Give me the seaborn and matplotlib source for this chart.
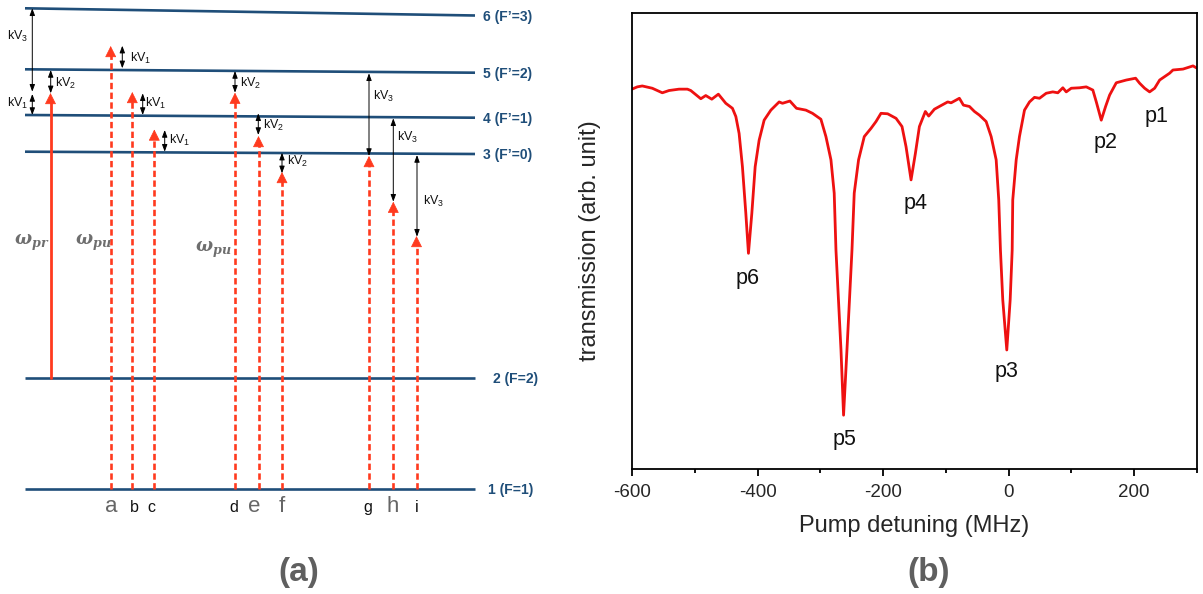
import numpy as np
import pandas as pd
import matplotlib
matplotlib.use("Agg")
import matplotlib.pyplot as plt
from matplotlib.ticker import MultipleLocator
import seaborn as sns

# ---------------- data: pump-probe transmission spectrum (panel b) ----------------
detuning = [-600.0, -591.6, -583.6, -567.7, -551.7, -541.0, -525.1, -511.8, -506.4, -490.4,
            -482.5, -472.9, -462.4, -450.6, -440.0, -434.6, -429.4, -424.1, -418.7, -414.5,
            -409.1, -403.8, -397.5, -389.5, -378.8, -365.6, -360.3, -348.5, -338.0, -323.0,
            -312.5, -299.1, -291.1, -283.1, -277.9, -275.1, -267.1, -263.0, -257.6, -249.6,
            -246.0, -239.1, -230.0, -219.3, -211.3, -203.4, -192.8, -179.4, -169.9, -163.5,
            -155.5, -148.6, -142.2, -132.7, -127.4, -118.3, -110.4, -97.1, -91.7, -78.5,
            -72.1, -62.5, -54.5, -46.6, -35.9, -27.9, -19.9, -15.8, -13.1, -9.4,
            -3.0, 2.4, 5.6, 6.5, 12.0, 17.2, 25.2, 33.2, 41.1, 49.1,
            59.8, 70.3, 78.3, 86.3, 91.7, 99.7, 112.9, 123.6, 134.1, 139.6,
            147.5, 154.4, 160.8, 171.4, 187.4, 202.2, 208.6, 216.6, 224.5, 232.5,
            240.5, 256.4, 261.7, 277.7, 293.6, 300.0]
transmission = [0.833, 0.838, 0.840, 0.835, 0.825, 0.830, 0.833, 0.833, 0.830, 0.812,
                0.819, 0.811, 0.822, 0.802, 0.791, 0.773, 0.736, 0.663, 0.561, 0.473,
                0.561, 0.663, 0.721, 0.765, 0.787, 0.805, 0.802, 0.807, 0.791, 0.787,
                0.780, 0.767, 0.729, 0.678, 0.605, 0.480, 0.261, 0.118, 0.261, 0.480,
                0.605, 0.678, 0.729, 0.747, 0.762, 0.780, 0.779, 0.769, 0.751, 0.707,
                0.634, 0.692, 0.751, 0.784, 0.774, 0.789, 0.795, 0.805, 0.803, 0.813,
                0.798, 0.795, 0.784, 0.776, 0.762, 0.729, 0.678, 0.590, 0.480, 0.371,
                0.261, 0.371, 0.480, 0.590, 0.678, 0.729, 0.787, 0.805, 0.815, 0.813,
                0.824, 0.827, 0.825, 0.836, 0.827, 0.835, 0.836, 0.838, 0.831, 0.805,
                0.765, 0.795, 0.820, 0.847, 0.853, 0.857, 0.846, 0.835, 0.827, 0.835,
                0.853, 0.868, 0.875, 0.877, 0.884, 0.879]
peak_names = ["p1", "p2", "p3", "p4", "p5", "p6"]
peak_centres = [224.5, 147.5, -3.0, -155.5, -263.0, -414.5]
x_ticks = [-600, -400, -200, 0, 200]

# ---------------- data: level scheme (panel a) ----------------
level_labels = ["1 (F=1)", "2 (F=2)", "3 (F\u2019=0)", "4 (F\u2019=1)", "5 (F\u2019=2)", "6 (F\u2019=3)"]
pump_names = ["a", "b", "c", "d", "e", "f", "g", "h", "i"]
kv_index = [3, 1, 2, 1, 1, 1, 2, 2, 2, 3, 3, 3]

# ---------------- layout (pixel coordinates of the schematic) ----------------
lvl_y_left = [489, 378, 151.7, 115, 69.3, 8.3]
lvl_y_right = [489, 378, 154, 117.7, 72.7, 15.5]
lvl_label_x = [488, 493, 483, 483, 483, 483]
pump_x = [110.7, 132.3, 154.3, 235, 258.5, 282, 369, 393.3, 416.5]
pump_tip = [46, 92, 129.5, 92.7, 136, 172, 156, 201.7, 236]
letter_x = [111, 134.4, 151.6, 233.7, 254.5, 281.4, 368, 392.5, 416.8]
letter_big = [True, False, False, False, True, True, False, True, False]
kv_x = [32.3, 32.3, 50.7, 122.3, 142.7, 164.7, 235, 258.3, 282, 369, 393.3, 417]
kv_y0 = [8.3, 94, 70, 45.7, 93.3, 130, 71, 113.3, 152.7, 73.3, 118.3, 155]
kv_y1 = [91.7, 115, 93.3, 68.3, 115, 151.7, 92.7, 135, 173.3, 156, 201.7, 236.7]
kv_lx = [17.5, 17.5, 55, 130, 145, 169.3, 240, 262.7, 286.7, 373.3, 397.3, 423.3]
kv_ly = [36.7, 103, 83, 58.3, 103.3, 140, 83.3, 125, 161.7, 96, 137.3, 201.7]

sns.set_theme(style="white")
plt.rcParams["font.family"] = ["Liberation Sans", "DejaVu Sans"]
plt.rcParams["mathtext.fontset"] = "custom"
plt.rcParams["mathtext.rm"] = "Liberation Sans"
plt.rcParams["mathtext.it"] = "Liberation Sans:italic"
plt.rcParams["mathtext.bf"] = "DejaVu Serif:italic:bold"

W, H = 1203, 594
fig = plt.figure(figsize=(W / 100, H / 100), dpi=100)

LVL_COL = "#1f4e79"
ARROW_RED = "#ff3a1e"
GRAY = "#666666"

# ---------------- panel (a) ----------------
ax0 = fig.add_axes([0, 0, 560 / W, 1])
ax0.set_xlim(0, 560)
ax0.set_ylim(H, 0)
ax0.axis("off")

for yl, yr, lab, lx in zip(lvl_y_left, lvl_y_right, level_labels, lvl_label_x):
    ax0.plot([25, 475], [yl, yr], color=LVL_COL, lw=1.9, solid_capstyle="butt")
    ax0.text(lx, yr + 1, lab, color=LVL_COL, fontsize=10, fontweight="bold",
             ha="left", va="center")

# probe arrow
ax0.plot([50.5, 50.5], [378, 100], color=ARROW_RED, lw=2.0)
ax0.annotate("", xy=(50.5, 93), xytext=(50.5, 101),
             arrowprops=dict(arrowstyle="-|>,head_length=0.6,head_width=0.3",
                             color=ARROW_RED, lw=0.5, shrinkA=0, shrinkB=0))

# pump arrows (dashed)
for x, tip in zip(pump_x, pump_tip):
    ax0.plot([x, x], [489, tip + 6], color=ARROW_RED, lw=1.9,
             ls=(0, (2.4, 1.3)))
    ax0.annotate("", xy=(x, tip), xytext=(x, tip + 8),
                 arrowprops=dict(arrowstyle="-|>,head_length=0.6,head_width=0.3",
                                 color=ARROW_RED, lw=0.5, shrinkA=0, shrinkB=0))

# kV double arrows
for x, y0, y1, k, lx, ly in zip(kv_x, kv_y0, kv_y1, kv_index, kv_lx, kv_ly):
    ax0.annotate("", xy=(x, y0), xytext=(x, y1),
                 arrowprops=dict(arrowstyle="<|-|>,head_length=0.35,head_width=0.13",
                                 color="black", lw=0.7, shrinkA=0, shrinkB=0))
    ax0.text(lx, ly, "kV$_{%d}$" % k, fontsize=9, color="#111111",
             ha="center" if lx < 20 else "left", va="center")

# omega labels
for x, y, s in [(32, 243, "pr"), (93, 243, "pu"), (213, 250, "pu")]:
    ax0.text(x, y, r"$\mathbf{\omega_{%s}}$" % s, color="#6e6e6e", fontsize=13,
             ha="center", va="center")

# transition letters
for x, name, big in zip(letter_x, pump_names, letter_big):
    ax0.text(x, 512, name, ha="center", va="baseline",
             fontsize=16 if big else 11.5, color=GRAY if big else "#111111")

ax0.text(299, 572, "(a)", fontsize=24, fontweight="bold", color="#5f5f5f",
         ha="center", va="center")

# ---------------- panel (b) ----------------
ax = fig.add_axes([632 / W, 125 / H, 565 / W, 456 / H])
df = pd.DataFrame({"detuning": detuning, "transmission": transmission})
sns.lineplot(data=df, x="detuning", y="transmission", ax=ax, color="#ee1111",
             linewidth=2.0, estimator=None, sort=False)
ax.set_xlim(-600, 300)
ax.set_ylim(0, 1)
ax.set_yticks([])
ax.set_xticks(x_ticks)
ax.set_xticklabels([str(t) for t in x_ticks])
ax.xaxis.set_minor_locator(MultipleLocator(100))
for sp in ax.spines.values():
    sp.set_visible(True)
    sp.set_color("black")
    sp.set_linewidth(1.3)
ax.tick_params(axis="x", which="major", direction="out", length=5, width=1.3,
               labelsize=13.5, pad=6, color="black", bottom=True)
ax.tick_params(axis="x", which="minor", direction="out", length=3, width=1.3,
               color="black", bottom=True)
ax.set_xlabel("Pump detuning (MHz)", fontsize=17, labelpad=10)
ax.set_ylabel("transmission (arb. unit)", fontsize=17, labelpad=22)

offsets = {"p1": (6.5, -18), "p2": (4.3, -15), "p3": (0, -15),
           "p4": (5, -17), "p5": (0.7, -17), "p6": (-0.5, -18.7)}
for name, xc in zip(peak_names, peak_centres):
    yc = float(np.interp(xc, detuning, transmission))
    dx, dy = offsets[name]
    ax.annotate(name, xy=(xc, yc), xytext=(dx * 0.72, dy * 0.72 - 5),
                textcoords="offset points", ha="center", va="center",
                fontsize=15.5, color="#111111")

fig.text(929 / W, 1 - 572 / H, "(b)", fontsize=24, fontweight="bold",
         color="#5f5f5f", ha="center", va="center")

fig.savefig("out.png", dpi=100)
